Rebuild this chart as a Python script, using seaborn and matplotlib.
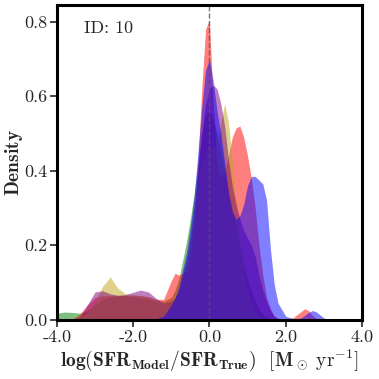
import numpy as np
import pandas as pd
import matplotlib
matplotlib.use("Agg")
import matplotlib.pyplot as plt
import seaborn as sns

### Daten
x_grid = [-4.0, -3.8, -3.6, -3.4, -3.2, -3.0, -2.8, -2.6, -2.4, -2.2, -2.0, -1.8, -1.6, -1.4, -1.2,
          -1.0, -0.9, -0.8, -0.6, -0.5, -0.4, -0.3, -0.2, -0.1, 0.0, 0.1, 0.2, 0.3, 0.4, 0.5, 0.6,
          0.7, 0.8, 0.9, 1.0, 1.1, 1.2, 1.3, 1.4, 1.5, 1.6, 1.7, 1.8, 2.0, 2.2, 2.4, 2.5, 2.6,
          2.7, 2.8, 3.0, 3.2]

dens_green = [0.018, 0.021, 0.020, 0.018, 0.025, 0.040, 0.055, 0.062, 0.065, 0.065, 0.062, 0.060, 0.055, 0.050, 0.050,
              0.060, 0.080, 0.110, 0.210, 0.270, 0.340, 0.420, 0.500, 0.550, 0.560, 0.540, 0.500, 0.450, 0.400, 0.350, 0.300,
              0.250, 0.200, 0.150, 0.110, 0.080, 0.050, 0.030, 0.015, 0.006, 0.002, 0.0, 0.0, 0.0, 0.0, 0.0, 0.0, 0.0,
              0.0, 0.0, 0.0, 0.0]

dens_red = [0.0, 0.0, 0.002, 0.015, 0.040, 0.060, 0.065, 0.065, 0.065, 0.065, 0.065, 0.065, 0.062, 0.055, 0.055,
            0.105, 0.125, 0.120, 0.130, 0.170, 0.250, 0.420, 0.620, 0.780, 0.805, 0.580, 0.420, 0.380, 0.400, 0.440, 0.490,
            0.515, 0.520, 0.490, 0.440, 0.380, 0.300, 0.200, 0.120, 0.060, 0.030, 0.010, 0.004, 0.002, 0.006, 0.022, 0.030, 0.025,
            0.012, 0.004, 0.0, 0.0]

dens_olive = [0.0, 0.0, 0.0, 0.005, 0.020, 0.050, 0.090, 0.115, 0.085, 0.070, 0.068, 0.065, 0.062, 0.055, 0.045,
              0.050, 0.065, 0.090, 0.170, 0.230, 0.300, 0.370, 0.420, 0.450, 0.460, 0.460, 0.470, 0.530, 0.580, 0.530, 0.430,
              0.320, 0.220, 0.140, 0.080, 0.040, 0.020, 0.008, 0.003, 0.0, 0.0, 0.0, 0.0, 0.0, 0.0, 0.0, 0.0, 0.0,
              0.0, 0.0, 0.0, 0.0]

dens_purple = [0.0, 0.0, 0.0, 0.008, 0.040, 0.075, 0.078, 0.070, 0.066, 0.068, 0.074, 0.080, 0.075, 0.058, 0.045,
               0.050, 0.060, 0.080, 0.160, 0.220, 0.300, 0.400, 0.500, 0.580, 0.620, 0.630, 0.620, 0.580, 0.520, 0.430, 0.360,
               0.310, 0.270, 0.240, 0.220, 0.200, 0.170, 0.120, 0.080, 0.050, 0.025, 0.010, 0.004, 0.0, 0.0, 0.0, 0.0, 0.0,
               0.0, 0.0, 0.0, 0.0]

dens_blue = [0.0, 0.0, 0.0, 0.0, 0.0, 0.0, 0.0, 0.0, 0.0, 0.0, 0.0, 0.0, 0.0, 0.003, 0.010,
             0.040, 0.060, 0.090, 0.180, 0.250, 0.330, 0.450, 0.570, 0.670, 0.700, 0.640, 0.560, 0.500, 0.420, 0.340, 0.290,
             0.270, 0.280, 0.310, 0.360, 0.385, 0.385, 0.375, 0.365, 0.320, 0.190, 0.095, 0.045, 0.010, 0.003, 0.005, 0.012, 0.020,
             0.025, 0.022, 0.005, 0.0]

series_names = ["green", "red", "olive", "purple", "blue"]
series_dens = [dens_green, dens_red, dens_olive, dens_purple, dens_blue]
series_colors = ["green", "red", "#bfa41a", "purple", "blue"]

xtick_vals = [-4.0, -2.0, 0.0, 2.0, 4.0]
ytick_vals = [0.0, 0.2, 0.4, 0.6, 0.8]

### Stil
sns.set_style("ticks")
plt.rcParams["font.family"] = "serif"
plt.rcParams["font.serif"] = ["cmr10", "DejaVu Serif"]
plt.rcParams["mathtext.fontset"] = "cm"
plt.rcParams["axes.unicode_minus"] = False
plt.rcParams["axes.formatter.use_mathtext"] = True

### Daten in langes Format
rows = []
for name, dens in zip(series_names, series_dens):
    for xv, yv in zip(x_grid, dens):
        rows.append({"x": xv, "density": yv, "series": name})
df = pd.DataFrame(rows)

fig = plt.figure(figsize=(3.79, 3.79), dpi=100)
ax = fig.add_axes([0.150, 0.156, 0.805, 0.831])

sns.lineplot(data=df, x="x", y="density", hue="series", palette=dict(zip(series_names, series_colors)),
             linewidth=0, legend=False, ax=ax, sort=True)

for name, col in zip(series_names, series_colors):
    sub = df[df["series"] == name]
    ax.fill_between(sub["x"], 0, sub["density"], color=col, alpha=0.5, linewidth=0)

ax.axvline(0.0, color="#555555", linestyle="--", linewidth=1, alpha=0.8)

ax.set_xlim(-4, 4)
ax.set_ylim(0, 0.845)
ax.set_xticks(xtick_vals)
ax.set_xticklabels([f"{v:.1f}" for v in xtick_vals])
ax.set_yticks(ytick_vals)
ax.set_yticklabels([f"{v:.1f}" for v in ytick_vals])
ax.tick_params(direction="out", length=5, width=1.2, labelsize=13, pad=2)

for sp in ax.spines.values():
    sp.set_linewidth(2.2)
    sp.set_color("black")

ax.set_ylabel(r"$\mathbf{Density}$", fontsize=14)
ax.yaxis.set_label_coords(-0.105, 0.5)
ax.set_xlabel(r"$\mathbf{log(SFR_{Model}/SFR_{True})}$  $[\mathbf{M}_\odot\ \mathrm{yr}^{\mathbf{-1}}]$",
              fontsize=14, labelpad=2)

ax.text(0.09, 0.925, "ID: 10", transform=ax.transAxes, fontsize=13, va="center", ha="left")

fig.savefig("out.png", dpi=100)
